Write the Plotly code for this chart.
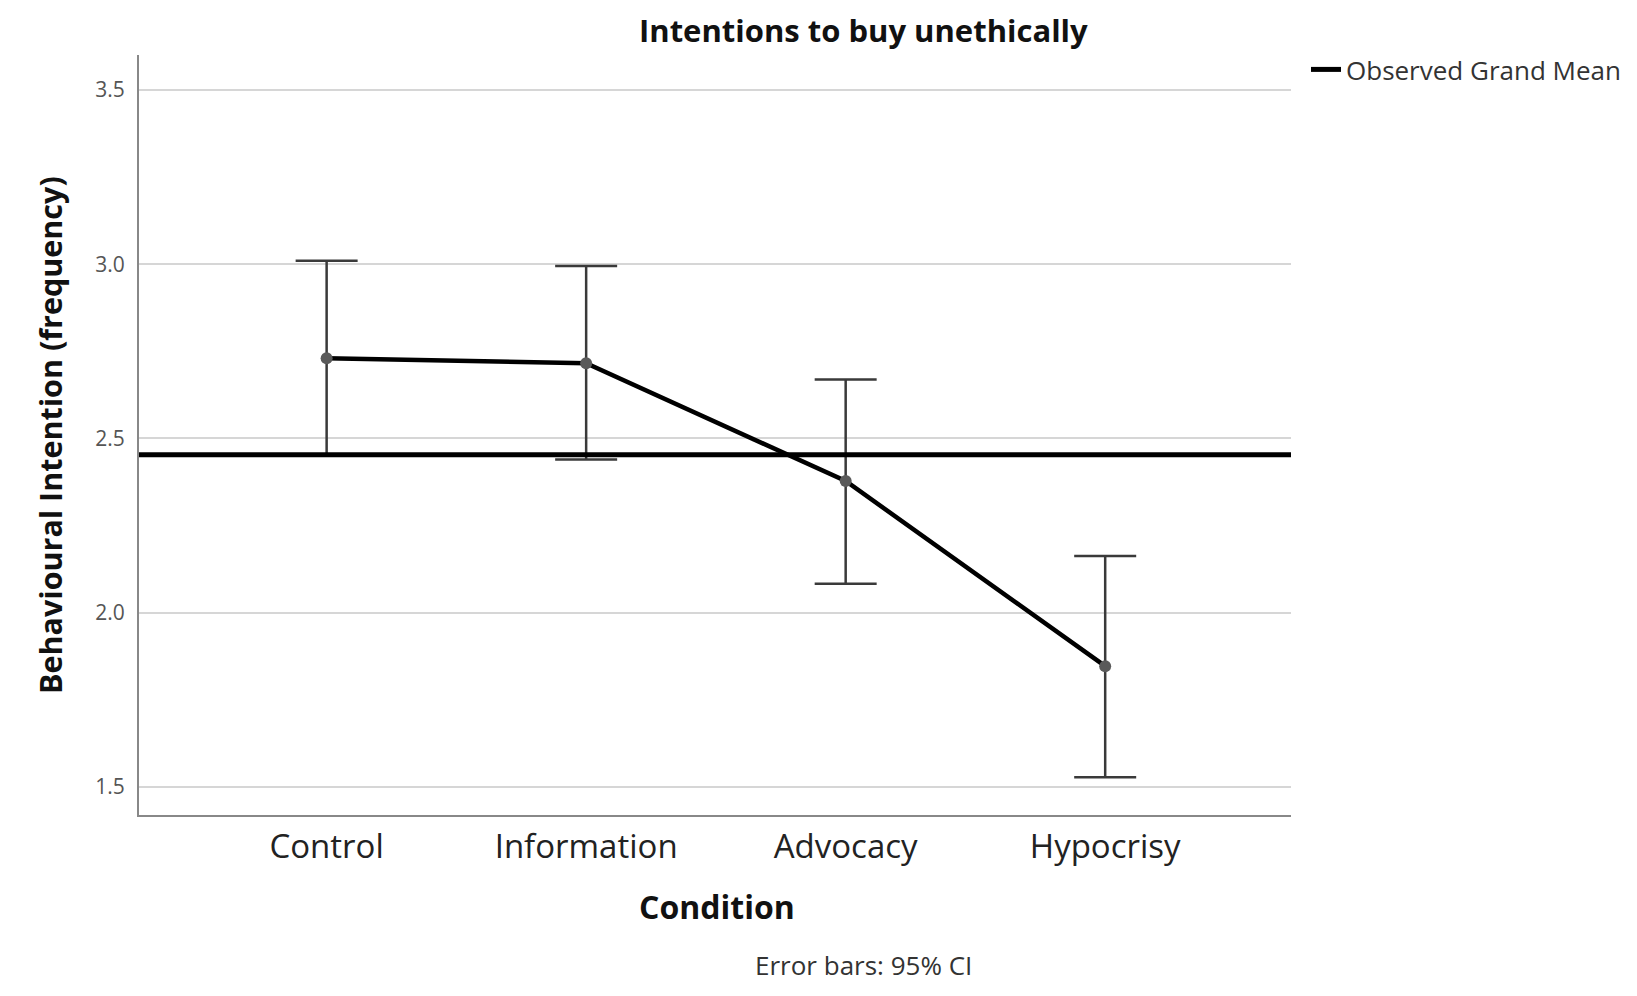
import plotly.graph_objects as go

# ---- data ----
conditions = ["Control", "Information", "Advocacy", "Hypocrisy"]
means = [2.73, 2.716, 2.378, 1.847]
ci_upper = [3.01, 2.995, 2.669, 2.163]
ci_lower = [2.455, 2.44, 2.083, 1.528]
grand_mean = 2.453
y_ticks = [1.5, 2.0, 2.5, 3.0, 3.5]
y_tick_labels = ["1.5", "2.0", "2.5", "3.0", "3.5"]

W, H = 1637, 996
L, R, T, B = 131, 354, 47, 189
PW, PH = W - L - R, H - T - B

def px_x(x):
    return (x - L) / PW

def px_y(y):
    return (H - B - y) / PH

FONT = "Open Sans"

err_plus = [u - m for u, m in zip(ci_upper, means)]
err_minus = [m - lo for m, lo in zip(means, ci_lower)]

fig = go.Figure()

fig.add_trace(go.Scatter(
    x=conditions, y=means, mode="lines+markers",
    line=dict(color="black", width=4.5),
    marker=dict(color="#5a5a5a", size=12),
    error_y=dict(type="data", symmetric=False, array=err_plus, arrayminus=err_minus,
                 color="#3a3a3a", thickness=2.5, width=31),
    showlegend=False, hoverinfo="skip",
))

# legend entry for grand mean
fig.add_trace(go.Scatter(
    x=[None], y=[None], mode="lines", name="Observed Grand Mean",
    line=dict(color="black", width=5),
))

fig.add_shape(type="line", xref="x domain", yref="y", x0=0, x1=1,
              y0=grand_mean, y1=grand_mean, line=dict(color="black", width=5), layer="above")

fig.update_layout(
    width=W, height=H,
    margin=dict(l=L, r=R, t=T, b=B),
    paper_bgcolor="white", plot_bgcolor="white",
    font=dict(family=FONT, color="#222222"),
    legend=dict(x=px_x(1298), y=px_y(38), xanchor="left", yanchor="top",
                font=dict(size=26, color="#333333", family=FONT),
                bgcolor="rgba(0,0,0,0)"),
    xaxis=dict(range=[-0.723, 3.716], showgrid=False, showline=True, linecolor="#888888",
               linewidth=2, ticks="", tickfont=dict(size=33, color="#222222", family=FONT),
               ticklabelstandoff=1, zeroline=False, fixedrange=True),
    yaxis=dict(range=[1.42, 3.60], tickvals=y_ticks, ticktext=y_tick_labels,
               showgrid=True, gridcolor="#d6d6d6", gridwidth=2,
               showline=True, linecolor="#888888", linewidth=2, ticks="",
               tickfont=dict(size=21, color="#555555", family=FONT),
               ticklabelstandoff=8, zeroline=False, fixedrange=True),
    annotations=[
        dict(text="<b>Intentions to buy unethically</b>", xref="paper", yref="paper",
             x=px_x(855), y=px_y(22), xanchor="center", yanchor="middle", showarrow=False,
             font=dict(size=31, color="#111111", family=FONT)),
        dict(text="<b>Condition</b>", xref="paper", yref="paper",
             x=px_x(709), y=px_y(898), xanchor="center", yanchor="middle", showarrow=False,
             font=dict(size=32, color="#111111", family=FONT)),
        dict(text="<b>Behavioural Intention (frequency)</b>", xref="paper", yref="paper",
             x=px_x(42), y=px_y(427), xanchor="center", yanchor="middle", showarrow=False,
             textangle=-90, font=dict(size=30.5, color="#111111", family=FONT)),
        dict(text="Error bars: 95% CI", xref="paper", yref="paper",
             x=px_x(855), y=px_y(957), xanchor="center", yanchor="middle", showarrow=False,
             font=dict(size=26, color="#333333", family=FONT)),
    ],
)

fig.write_html("out.html")
